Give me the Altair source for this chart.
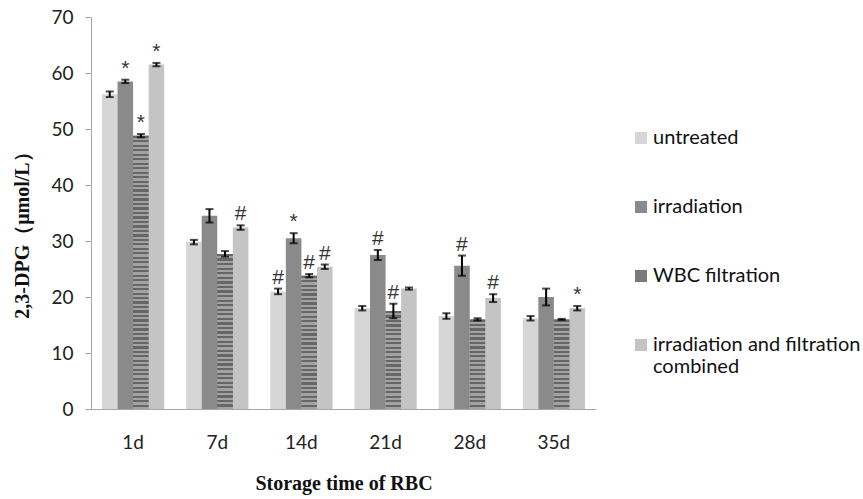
import altair as alt
import pandas as pd

days = ["1d", "7d", "14d", "21d", "28d", "35d"]
groups = ["untreated", "irradiation", "WBC filtration",
          "irradiation and filtration combined"]

# mean 2,3-DPG (µmol/L) per group, one list per storage day
means = {
    "1d":  [56.2, 58.5, 48.8, 61.5],
    "7d":  [29.8, 34.5, 27.7, 32.4],
    "14d": [21.0, 30.5, 23.8, 25.4],
    "21d": [18.0, 27.5, 17.5, 21.5],
    "28d": [16.6, 25.6, 16.0, 19.8],
    "35d": [16.2, 20.0, 16.0, 18.0],
}
errors = {
    "1d":  [0.5, 0.3, 0.3, 0.3],
    "7d":  [0.4, 1.2, 0.5, 0.4],
    "14d": [0.5, 0.9, 0.3, 0.4],
    "21d": [0.4, 0.9, 1.3, 0.2],
    "28d": [0.5, 1.8, 0.2, 0.7],
    "35d": [0.4, 1.5, 0.1, 0.4],
}
# significance markers above each bar
marks = {
    "1d":  ["", "*", "*", "*"],
    "7d":  ["", "", "", "#"],
    "14d": ["#", "*", "#", "#"],
    "21d": ["", "#", "#", ""],
    "28d": ["", "#", "", "#"],
    "35d": ["", "", "", "*"],
}

rows = []
for d in days:
    for i, g in enumerate(groups):
        m, e = means[d][i], errors[d][i]
        rows.append({"day": d, "group": g, "value": m,
                     "lo": m - e, "hi": m + e, "sig": marks[d][i]})
df = pd.DataFrame(rows)

fills = ["#d6d6d6", "#8a8a8a", "#7a7a7a", "#c4c4c4"]
PLOT_H = 392
Y_MAX = 70

LABEL_FONT = "Lato"
TITLE_FONT = "Liberation Serif"

x = alt.X("day:N", sort=days, title="Storage time of RBC",
          scale=alt.Scale(paddingInner=0.26, paddingOuter=0.13),
          axis=alt.Axis(labelAngle=0, ticks=False, labelFontSize=19,
                        labelFont=LABEL_FONT, labelColor="#222222",
                        labelPadding=24, domainColor="#a6a6a6",
                        titleFont=TITLE_FONT, titleFontSize=20,
                        titleFontWeight="bold", titleColor="#111111",
                        titlePadding=21))
xo = alt.XOffset("group:N", sort=groups)
y = alt.Y("value:Q", title="2,3-DPG（μmol/L）",
          scale=alt.Scale(domain=[0, Y_MAX]),
          axis=alt.Axis(values=list(range(0, 71, 10)), grid=False,
                        tickSize=6, tickColor="#a6a6a6",
                        domainColor="#a6a6a6", labelFontSize=19,
                        labelFont=LABEL_FONT, labelColor="#222222",
                        labelPadding=12,
                        titleFont=TITLE_FONT, titleFontSize=20,
                        titleFontWeight="bold", titleColor="#111111",
                        titleAngle=-90, titleX=-69, titleY=213,
                        titleBaseline="middle", titleAlign="center"))

base = alt.Chart(df)

bars = base.mark_bar(strokeWidth=0).encode(
    x=x, xOffset=xo, y=y,
    color=alt.Color("group:N", sort=groups,
                    scale=alt.Scale(domain=groups, range=fills),
                    legend=alt.Legend(
                        title=None, orient="none", legendX=540, legendY=111,
                        symbolType="square", symbolSize=144,
                        symbolStrokeWidth=0, rowPadding=49,
                        labelFont=LABEL_FONT, labelFontSize=20,
                        labelColor="#111111", labelOffset=2,
                        labelLimit=300,
                        labelExpr="datum.label == 'irradiation and filtration combined' ? ['irradiation and filtration', 'combined'] : datum.label")),
)


def stripes(n, dark, light):
    """Vertical linear gradient made of n hard-edged horizontal stripes."""
    stops = []
    for k in range(n):
        a, b, c = k / n, (k + 0.5) / n, (k + 1) / n
        stops += [{"offset": a, "color": dark}, {"offset": b, "color": dark},
                  {"offset": b, "color": light}, {"offset": c, "color": light}]
    return {"gradient": "linear", "x1": 0, "y1": 0, "x2": 0, "y2": 1,
            "stops": stops}


# striped fill for the WBC filtration bars, ~4.5 px per stripe pair
striped = []
for d in days:
    v = means[d][2]
    n = max(1, round(v / Y_MAX * PLOT_H / 4.5))
    striped.append(
        base.transform_filter(
            (alt.datum.day == d) & (alt.datum.group == groups[2])
        ).mark_bar(strokeWidth=0, fill=stripes(n, "#666666", "#a2a2a2"))
        .encode(x=x, xOffset=xo, y=y)
    )

whisk = base.mark_rule(color="black", strokeWidth=2).encode(
    x=x, xOffset=xo, y="lo:Q", y2="hi:Q")
cap_lo = base.mark_tick(color="black", thickness=2, size=8,
                        orient="horizontal").encode(x=x, xOffset=xo, y="lo:Q")
cap_hi = base.mark_tick(color="black", thickness=2, size=8,
                        orient="horizontal").encode(x=x, xOffset=xo, y="hi:Q")
sig = base.mark_text(dy=-11, fontSize=21, font="Liberation Sans",
                     color="#333333").encode(
    x=x, xOffset=xo, y="hi:Q", text="sig:N")

chart = alt.layer(bars, *striped, whisk, cap_lo, cap_hi, sig).properties(
    width=505, height=PLOT_H, background="white",
    padding={"left": 91, "top": 17, "right": 267, "bottom": 90},
    autosize=alt.AutoSizeParams(type="none"),
).configure_view(stroke=None, strokeWidth=0)

chart.save("out.html", embed_options={"renderer": "svg", "actions": False})
